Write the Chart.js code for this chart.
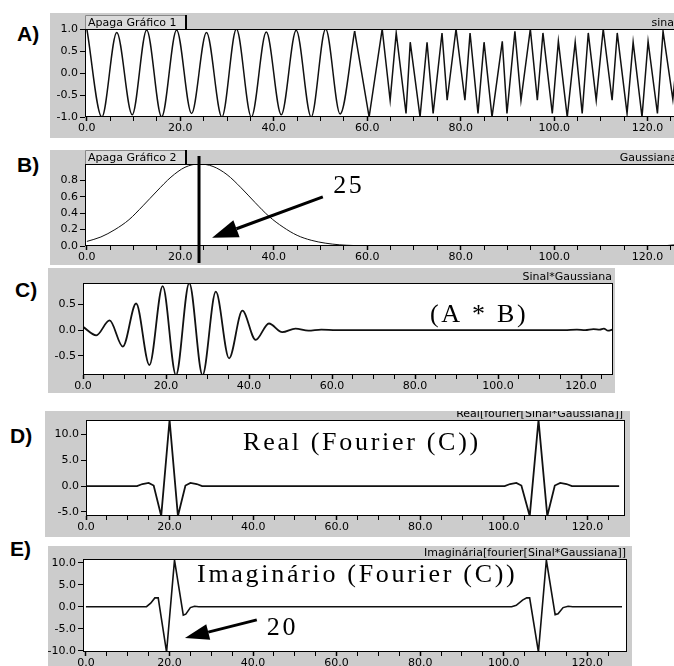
<!DOCTYPE html>
<html>
<head>
<meta charset="utf-8">
<script src="https://cdn.jsdelivr.net/npm/chart.js@4.4.1/dist/chart.umd.min.js"></script>
<style>
  body { margin: 0; width: 674px; height: 666px; overflow: hidden; position: relative; background: #fff; }
  canvas { position: absolute; background: #cccccc; }
  .rot { position: absolute; font: bold 21px "Liberation Sans", Arial, sans-serif; line-height: 21px; color: #000; }
</style>
</head>
<body>
<div class="rot" style="left:17px;top:23px">A)</div>
<div class="rot" style="left:17px;top:154px">B)</div>
<div class="rot" style="left:15px;top:279px">C)</div>
<div class="rot" style="left:10px;top:425px">D)</div>
<div class="rot" style="left:10px;top:538px">E)</div>

<canvas id="grafA" width="650" height="125" style="left:50px;top:13px"></canvas>
<canvas id="grafB" width="650" height="115" style="left:50px;top:150px"></canvas>
<canvas id="grafC" width="567" height="125" style="left:48px;top:268px"></canvas>
<canvas id="grafD" width="585" height="126" style="left:45px;top:411px"></canvas>
<canvas id="grafE" width="584" height="125" style="left:48px;top:546px"></canvas>

<script>
// A) sinal - picos e vales (parte lenta e parte rapida)
const sinalX1 = [0, 3.2, 6.4, 9.7, 12.8, 16.0, 19.2, 22.4, 25.6, 28.9, 32.0, 35.2, 38.4, 41.6, 44.8, 48.0, 51.1, 54.2, 57.3];
const sinalY1 = [1.0, -1.0, 0.92, -0.95, 0.98, -1.0, 0.98, -0.92, 0.92, -1.0, 1.0, -1.0, 0.93, -0.95, 0.97, -1.0, 1.0, -0.93, 0.95];
const sinalX2 = [57.3, 60.4, 63.2, 64.9, 66.2, 68.3, 69.2, 71.3, 72.8, 74.1, 76.0, 77.1, 79.0, 80.9, 82.0, 83.7, 85.0, 86.7, 88.9, 89.9,
                 91.6, 92.9, 94.9, 96.4, 97.6, 99.6, 100.9, 102.8, 104.5, 106.0, 107.3, 109.0, 110.5, 112.4, 113.5, 115.6, 116.9, 118.8, 120.1, 122.1,
                 123.3, 125.4, 126.8, 128];
const sinalY2 = [0.95, -1.0, 1.0, -0.62, 0.91, -0.92, 0.7, -1.0, 0.7, -0.92, 0.91, -0.62, 1.0, -0.62, 0.91, -0.92, 0.7, -1.0, 0.72, -0.92,
                 0.95, -0.62, 1.0, -0.62, 0.91, -0.92, 0.72, -1.0, 0.7, -0.92, 0.91, -0.62, 1.0, -0.62, 0.91, -0.92, 0.7, -1.0, 0.72, -0.92,
                 0.95, -0.6, 0.9, -0.9];

// B) gaussiana
const gaussX = [0, 3, 6, 9, 12, 15, 18, 21, 24, 27, 30, 33, 36, 39, 42, 45, 48, 51, 54, 57, 60, 65, 120, 124, 126, 128];
const gaussY = [0.056, 0.11, 0.20, 0.32, 0.49, 0.67, 0.84, 0.96, 1.0, 0.97, 0.87, 0.71, 0.53, 0.36, 0.23, 0.13, 0.07, 0.035, 0.015, 0.006, 0.002, 0, 0, 0.005, 0.015, 0.03];

// C) sinal * gaussiana
const produtoX = [0, 3.2, 6.4, 9.6, 12.8, 16.0, 19.2, 22.4, 25.6, 28.8, 32.0, 35.2, 38.4, 41.6, 44.8, 48.0, 51.2, 54.3, 57.4, 61,
                  116, 119, 121, 123, 124.5, 125.5, 126.5, 127.5];
const produtoY = [0.065, -0.10, 0.19, -0.32, 0.52, -0.68, 0.86, -0.88, 0.92, -0.88, 0.75, -0.55, 0.38, -0.19, 0.13, -0.04, 0.03, -0.01, 0.01, 0,
                  0, 0.01, 0, 0.02, 0.01, 0.03, -0.01, 0.01];

// D) parte real da transformada
const realX = [0, 12.2, 13.5, 15, 16.2, 18, 20, 22, 23.8, 25, 26.5, 27.8,
               100.2, 101.5, 103, 104.2, 106.2, 108.3, 110.4, 112.2, 113.5, 115, 116.3, 127.6];
const realY = [0, 0, 0.4, 0.6, 0.1, -5.8, 12.8, -5.8, 0.1, 0.6, 0.4, 0,
               0, 0.4, 0.6, 0.1, -5.8, 12.8, -5.8, 0.1, 0.6, 0.4, 0, 0];

// E) parte imaginaria da transformada
const imagX = [0, 14.5, 15.5, 16.5, 17.3, 19.3, 21.2, 23.3, 23.9, 25, 26, 27,
               101.9, 103, 104.5, 105.5, 106.2, 108.3, 110.2, 112.3, 113, 114.2, 115.4, 116.5, 128.3];
const imagY = [0, 0, 0.8, 2.0, 2.0, -10.3, 10.6, -1.9, -1.7, -0.2, 0.1, 0,
               0, 0.3, 1.5, 2.0, 2.0, -10.3, 10.6, -1.8, -1.6, -0.2, 0.1, 0, 0];

// marcas dos eixos
const xTicks = [0, 5, 10, 15, 20, 25, 30, 35, 40, 45, 50, 55, 60, 65, 70, 75, 80, 85, 90, 95, 100, 105, 110, 115, 120, 125];
const yTicksA = [-1, -0.5, 0, 0.5, 1];
const yTicksB = [0, 0.2, 0.4, 0.6, 0.8];
const yTicksC = [-0.5, 0, 0.5];
const yTicksD = [-5, 0, 5, 10];
const yTicksE = [-10, -5, 0, 5, 10];

// textos e anotacoes de cada painel (coordenadas em unidades dos eixos)
const extras = {
  grafA: { titulo: 'sinal', recuo: 8, aba: 'Apaga Gráfico 1' },
  grafB: { titulo: 'Gaussiana', recuo: 8, aba: 'Apaga Gráfico 2', cursor: 24,
           setas: [{ de: [50.5, 0.6], para: [26.8, 0.1], comp: 26, meia: 9 }],
           notas: [{ texto: '25', x: 52.7, y: 0.646 }] },
  grafC: { titulo: 'Sinal*Gaussiana', recuo: 1,
           notas: [{ texto: '(A * B)', x: 83.6, y: 0.16 }] },
  grafD: { titulo: 'Real[fourier[Sinal*Gaussiana]]', recuo: 2,
           notas: [{ texto: 'Real (Fourier (C))', x: 37.6, y: 7.0 }] },
  grafE: { titulo: 'Imaginária[fourier[Sinal*Gaussiana]]', recuo: 1,
           setas: [{ de: [40.9, -3.0], para: [23.7, -7.1], comp: 24, meia: 8 }],
           notas: [{ texto: 'Imaginário (Fourier (C))', x: 26.6, y: 5.6 }, { texto: '20', x: 43.3, y: -6.4 }] }
};

function seta(ctx, x1, y1, x2, y2, comp, meia) {
  const ang = Math.atan2(y2 - y1, x2 - x1);
  const bx = x2 - comp * Math.cos(ang), by = y2 - comp * Math.sin(ang);
  ctx.strokeStyle = '#000';
  ctx.fillStyle = '#000';
  ctx.lineWidth = 3;
  ctx.beginPath(); ctx.moveTo(x1, y1); ctx.lineTo(bx, by); ctx.stroke();
  ctx.beginPath();
  ctx.moveTo(x2, y2);
  ctx.lineTo(bx + meia * Math.sin(ang), by - meia * Math.cos(ang));
  ctx.lineTo(bx - meia * Math.sin(ang), by + meia * Math.cos(ang));
  ctx.closePath(); ctx.fill();
}

const painel = {
  id: 'painel',
  beforeDraw(chart) {
    const { ctx, chartArea: a } = chart;
    ctx.save();
    ctx.fillStyle = '#fff';
    ctx.fillRect(a.left, a.top, a.right - a.left, a.bottom - a.top);
    ctx.restore();
  },
  afterDraw(chart) {
    const { ctx, chartArea: a, scales: { x, y } } = chart;
    const ex = extras[chart.canvas.id];
    ctx.save();
    ctx.strokeStyle = '#000';
    ctx.fillStyle = '#000';
    ctx.lineWidth = 1;
    ctx.strokeRect(a.left + 0.5, a.top + 0.5, a.right - a.left - 1, a.bottom - a.top - 1);

    ctx.font = '11px "DejaVu Sans"';
    ctx.textBaseline = 'alphabetic';
    ctx.textAlign = 'right';
    ctx.fillText(ex.titulo, a.right - ex.recuo, a.top - 3);

    if (ex.aba) {
      ctx.fillStyle = '#dadada';
      ctx.fillRect(a.left, a.top - 14, 101, 14);
      ctx.strokeStyle = '#888';
      ctx.beginPath();
      ctx.moveTo(a.left + 0.5, a.top); ctx.lineTo(a.left + 0.5, a.top - 13.5); ctx.lineTo(a.left + 101, a.top - 13.5);
      ctx.stroke();
      ctx.fillStyle = '#000';
      ctx.fillRect(a.left + 100, a.top - 14, 2, 14);
      ctx.textAlign = 'left';
      ctx.fillText(ex.aba, a.left + 3, a.top - 3);
    }

    ctx.fillStyle = '#000';
    if (ex.cursor !== undefined) {
      const cx = x.getPixelForValue(ex.cursor);
      ctx.fillRect(cx - 1.5, a.top - 8, 3, a.bottom - a.top + 25);
    }

    (ex.setas || []).forEach(s => {
      seta(ctx, x.getPixelForValue(s.de[0]), y.getPixelForValue(s.de[1]),
           x.getPixelForValue(s.para[0]), y.getPixelForValue(s.para[1]), s.comp, s.meia);
    });

    ctx.font = '26px "Liberation Serif"';
    ctx.textAlign = 'left';
    ctx.fillStyle = '#000';
    ctx.letterSpacing = '2.7px';
    (ex.notas || []).forEach(n => {
      ctx.fillText(n.texto, x.getPixelForValue(n.x), y.getPixelForValue(n.y));
    });
    ctx.restore();
  }
};

function grafico(id, series, eixo, caixa) {
  new Chart(document.getElementById(id), {
    type: 'line',
    data: {
      datasets: series.map(s => ({
        data: s.x.map((v, i) => ({ x: v, y: s.y[i] })),
        borderColor: '#111',
        borderWidth: s.largura,
        pointRadius: 0,
        tension: 0,
        cubicInterpolationMode: s.suave ? 'monotone' : 'default'
      }))
    },
    options: {
      responsive: false,
      animation: false,
      devicePixelRatio: 1,
      events: [],
      layout: { padding: { top: caixa.topo, right: caixa.direita, left: 0, bottom: 0 } },
      plugins: { legend: { display: false }, tooltip: { enabled: false } },
      scales: {
        x: {
          type: 'linear', min: eixo.xMin, max: eixo.xMax,
          afterBuildTicks: s => { s.ticks = xTicks.map(v => ({ value: v })); },
          afterFit: s => { s.height = caixa.xAltura; },
          border: { display: false },
          grid: { drawOnChartArea: false, drawTicks: true, tickLength: 4, tickColor: '#000',
                  tickWidth: c => (c.tick && c.tick.value % 20 === 0 ? 1.5 : 1) },
          ticks: { autoSkip: false, maxRotation: 0, minRotation: 0, padding: 1, color: '#000',
                   font: { family: 'DejaVu Sans', size: 11 },
                   callback: v => (v % 20 === 0 ? v.toFixed(1) : '') }
        },
        y: {
          min: eixo.yMin, max: eixo.yMax,
          afterBuildTicks: s => { s.ticks = eixo.yTicks.map(v => ({ value: v })); },
          afterFit: s => { s.width = caixa.yLargura; },
          border: { display: false },
          grid: { drawOnChartArea: false, drawTicks: true, tickLength: 5, tickColor: '#000' },
          ticks: { padding: 2, color: '#000', font: { family: 'DejaVu Sans', size: 11 },
                   callback: v => v.toFixed(1) }
        }
      }
    },
    plugins: [painel]
  });
}

grafico('grafA',
  [{ x: sinalX1, y: sinalY1, largura: 1.5, suave: true }, { x: sinalX2, y: sinalY2, largura: 1.5, suave: false }],
  { xMin: -0.4, xMax: 128, yMin: -1, yMax: 1, yTicks: yTicksA },
  { yLargura: 35, xAltura: 21, topo: 16, direita: 15 });

grafico('grafB',
  [{ x: gaussX, y: gaussY, largura: 1, suave: true }],
  { xMin: -0.4, xMax: 128, yMin: 0, yMax: 1.0, yTicks: yTicksB },
  { yLargura: 35, xAltura: 19, topo: 14, direita: 15 });

grafico('grafC',
  [{ x: produtoX, y: produtoY, largura: 1.8, suave: true }],
  { xMin: 0, xMax: 127.7, yMin: -0.875, yMax: 0.92, yTicks: yTicksC },
  { yLargura: 35, xAltura: 18, topo: 15, direita: 2 });

grafico('grafD',
  [{ x: realX, y: realY, largura: 1.8, suave: false }],
  { xMin: 0, xMax: 129, yMin: -5.8, yMax: 12.8, yTicks: yTicksD },
  { yLargura: 41, xAltura: 21, topo: 9, direita: 5 });

grafico('grafE',
  [{ x: imagX, y: imagY, largura: 1.6, suave: false }],
  { xMin: -0.7, xMax: 129.5, yMin: -10.3, yMax: 10.85, yTicks: yTicksE },
  { yLargura: 35, xAltura: 19, topo: 13, direita: 5 });
</script>
</body>
</html>
